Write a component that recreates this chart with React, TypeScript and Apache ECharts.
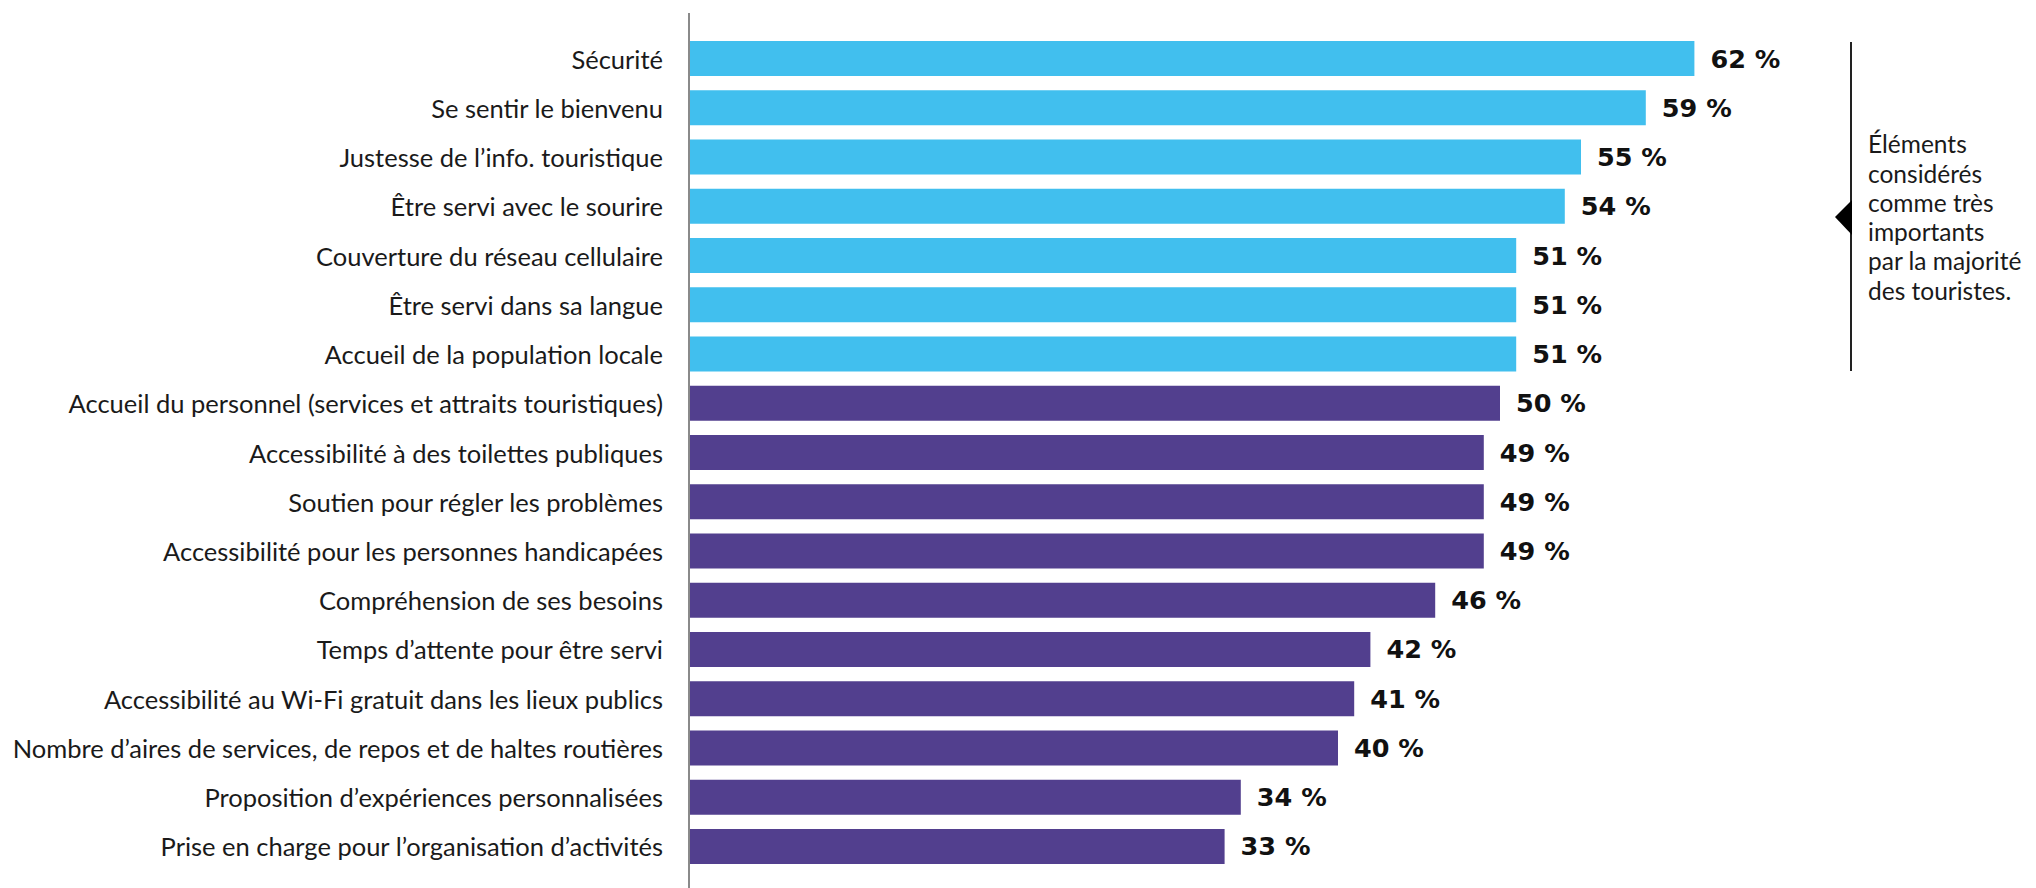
import React, { useEffect, useRef } from "react";
import * as echarts from "echarts";

const categories = [
  "Sécurité",
  "Se sentir le bienvenu",
  "Justesse de l’info. touristique",
  "Être servi avec le sourire",
  "Couverture du réseau cellulaire",
  "Être servi dans sa langue",
  "Accueil de la population locale",
  "Accueil du personnel (services et attraits touristiques)",
  "Accessibilité à des toilettes publiques",
  "Soutien pour régler les problèmes",
  "Accessibilité pour les personnes handicapées",
  "Compréhension de ses besoins",
  "Temps d’attente pour être servi",
  "Accessibilité au Wi-Fi gratuit dans les lieux publics",
  "Nombre d’aires de services, de repos et de haltes routières",
  "Proposition d’expériences personnalisées",
  "Prise en charge pour l’organisation d’activités",
];

const values = [62, 59, 55, 54, 51, 51, 51, 50, 49, 49, 49, 46, 42, 41, 40, 34, 33];

const annotationLines = [
  "Éléments",
  "considérés",
  "comme très",
  "importants",
  "par la majorité",
  "des touristes.",
];

const BLUE = "#41BFEE";
const PURPLE = "#523F8E";

export default function App() {
  const ref = useRef<HTMLDivElement>(null);

  useEffect(() => {
    document.body.style.margin = "0";
    if (!ref.current) return;
    const chart = echarts.init(ref.current, null, { renderer: "svg" });
    chart.setOption({
      animation: false,
      grid: { left: 690, top: 34, width: 1296, height: 837, containLabel: false },
      xAxis: {
        type: "value",
        min: 0,
        max: 80,
        show: false,
      },
      yAxis: {
        type: "category",
        data: categories,
        inverse: true,
        axisLine: { show: false },
        axisTick: { show: false },
        axisLabel: {
          margin: 27,
          fontFamily: "Lato",
          fontSize: 25.5,
          color: "#1a1a1a",
        },
      },
      series: [
        {
          type: "bar",
          barWidth: 35,
          data: values.map((v) => ({
            value: v,
            itemStyle: { color: v > 50 ? BLUE : PURPLE },
          })),
          label: {
            show: true,
            position: "right",
            distance: 16,
            formatter: "{c} %",
            fontFamily: "DejaVu Sans",
            fontWeight: "bold",
            fontSize: 25.5,
            color: "#111",
          },
        },
      ],
      graphic: [
        {
          type: "line",
          shape: { x1: 689, y1: 13, x2: 689, y2: 888 },
          style: { stroke: "#8a8a8a", lineWidth: 2 },
        },
        {
          type: "line",
          shape: { x1: 1851, y1: 42, x2: 1851, y2: 371 },
          style: { stroke: "#222", lineWidth: 2 },
        },
        {
          type: "polygon",
          shape: { points: [[1835, 217], [1852, 200], [1852, 235]] },
          style: { fill: "#000" },
        },
        {
          type: "text",
          x: 1868,
          y: 217,
          style: {
            text: annotationLines.join("\n"),
            fontFamily: "Lato",
            fontSize: 24.5,
            lineHeight: 29.3,
            fill: "#1a1a1a",
            verticalAlign: "middle",
            align: "left",
          },
        },
      ],
    });
    return () => chart.dispose();
  }, []);

  return <div ref={ref} style={{ width: 2036, height: 888 }} />;
}
